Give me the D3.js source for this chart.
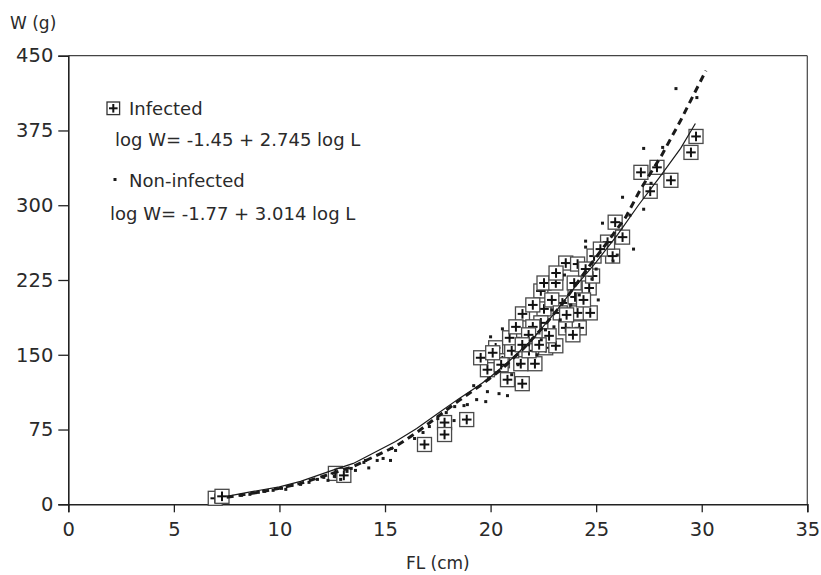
<!DOCTYPE html>
<html><head><meta charset="utf-8">
<script src="https://cdn.jsdelivr.net/npm/d3@7"></script>
<style>
html,body{margin:0;padding:0;background:#fff;}
svg text{font-family:"DejaVu Sans",sans-serif;fill:#2a2a2a;}
</style></head>
<body>
<svg id="chart" width="821" height="575"></svg>
<script>
// ---- data ----
const xTicks = [0,5,10,15,20,25,30,35];
const yTicks = [0,75,150,225,300,375,450];
// Infected fish: [FL cm, W g]
const infectedL = [6.96,7.28,12.65,13.05,16.87,17.82,17.82,18.87,21.5,20.8,22.1,19.85,19.53,20.24,21.19,21.43,21.82,22.61,23.09,23.56,24.2,21.51,22.53,23.4,24.12,24.72,22.38,22.53,23.09,23.96,24.67,24.83,23.56,24.12,24.9,25.78,25.54,26.25,25.9,29.73,29.49,27.12,27.88,28.54,27.56,20.56,22.38,22.77,21.0,20.9,22.0,22.9,23.3,24.0,24.5,25.2,20.5,21.2,21.8,22.3,23.6,23.9,24.4,22.0,23.1,20.1,21.5];
const infectedW = [6,8,31,29,60,82,70,85,121,125,141,135,147,157,167,141,154,157,159,177,177,191,196,202,192,192,214,222,222,222,217,229,242,241,249,249,263,268,283,369,353,333,338,325,314,144,182,169,154,167,178,205,192,208,236,256,140,178,170,160,190,170,205,200,232,152,160];
// Non-infected fish: [FL cm, W g]
const nonL = [8.2,8.6,9.0,9.3,9.7,10.1,10.3,10.6,11.0,11.4,11.8,12.1,12.3,12.6,12.9,13.2,13.4,13.6,14.0,14.07,14.23,14.63,14.91,15.26,15.5,15.3,16.4,16.8,17.1,17.5,17.9,18.27,18.3,18.74,18.9,19.2,19.34,19.77,19.85,20.4,20.8,19.9,20.0,20.56,21.0,22.2,22.6,23.0,23.8,24.2,25.1,24.5,24.5,25.3,26.77,25.8,26.25,27.25,27.25,28.15,28.78,29.77,26.0,25.0,23.5,21.8,22.9,24.8,26.6,27.6,21.3,22.4,23.3];
const nonW = [9,10,12,13,14,16,15,19,20,22,25,27,24,28,25,33,36,34,42,44,36.5,44,46,44,54,56,66,72,78,86,92,84,98,99,100,119,105,103,113,111,109,126,168,176,130,150,175,178,200,210,205,264,258,282,256,244,308,296,357,358,417,408,250,236,230,160,195,226,290,322,140,165,185];
// fitted curves
const fitInfL = [7.5,8.5,10,11,12.5,13.5,14.5,15.5,16.5,17.5,18.5,19.5,20,21,22,23,24,25,26,27,28,29,29.7];
const fitInfW = [8,12,17.5,23,34,41,52,63,76,91,106,120,128,146,166,191,218,243,270,300,328,357,382];
const fitNonL = [7.5,9,10,11,12.5,13.5,14.5,15.5,16.5,17.5,18.5,19.5,20.5,21.5,22.5,23.5,24.5,25.5,26.4,27.1,28.1,29,29.5,30.2];
const fitNonW = [7,12,16,21,31,38,48,58,72,88,104,119,135,155,178,204,234,262,288,316,350,385,406,435];

// ---- chart ----
const svg = d3.select("#chart");
const x = d3.scaleLinear().domain([0,35]).range([68.3,807.3]);
const y = d3.scaleLinear().domain([0,450]).range([504.3,55.7]);

// frame (top and right)
svg.append("line").attr("x1",x(0)).attr("x2",x(35)).attr("y1",y(450)).attr("y2",y(450))
  .attr("stroke","#444").attr("stroke-width",1.2);
svg.append("line").attr("x1",x(35)).attr("x2",x(35)).attr("y1",y(450)).attr("y2",y(0))
  .attr("stroke","#444").attr("stroke-width",1.2);

// axes
const xAxis = svg.append("g").attr("transform",`translate(0,${y(0)})`)
  .call(d3.axisBottom(x).tickValues(xTicks).tickSize(8).tickPadding(10).tickFormat(d3.format("d")));
const yAxis = svg.append("g").attr("transform",`translate(${x(0)},0)`)
  .call(d3.axisLeft(y).tickValues(yTicks).tickSize(10).tickPadding(5).tickFormat(d3.format("d")));
[xAxis,yAxis].forEach(g=>{
  g.select(".domain").attr("stroke","#222").attr("stroke-width",1.6);
  g.selectAll(".tick line").attr("stroke","#222").attr("stroke-width",1.3);
  g.selectAll(".tick text").style("font-size","19.5px").style("font-family","DejaVu Sans").attr("fill","#2a2a2a");
});

// axis titles
svg.append("text").attr("x",10).attr("y",29).style("font-size","17px").text("W (g)");
svg.append("text").attr("x",x(17.5)).attr("y",569).attr("text-anchor","middle").style("font-size","17px").text("FL (cm)");

// infected markers
const inf = infectedL.map((l,i)=>({l, w:infectedW[i]}));
const bs = 14, ph = 4.8;
const mk = svg.append("g");
inf.forEach(d=>{
  const cx = x(d.l), cy = y(d.w);
  mk.append("rect").attr("x",cx-bs/2).attr("y",cy-bs/2).attr("width",bs).attr("height",bs)
    .attr("fill","#fff").attr("stroke","#4a4a4a").attr("stroke-width",1.3);
  mk.append("line").attr("x1",cx-ph).attr("x2",cx+ph).attr("y1",cy).attr("y2",cy).attr("stroke","#111").attr("stroke-width",2);
  mk.append("line").attr("x1",cx).attr("x2",cx).attr("y1",cy-ph).attr("y2",cy+ph).attr("stroke","#111").attr("stroke-width",2);
});

// fitted lines
const line = d3.line().x(d=>x(d[0])).y(d=>y(d[1]));
svg.append("path").datum(fitInfL.map((l,i)=>[l,fitInfW[i]])).attr("d",line)
  .attr("fill","none").attr("stroke","#1a1a1a").attr("stroke-width",1.2);
svg.append("path").datum(fitNonL.map((l,i)=>[l,fitNonW[i]])).attr("d",line)
  .attr("fill","none").attr("stroke","#1a1a1a").attr("stroke-width",3).attr("stroke-dasharray","7,5");

// non-infected dots
svg.append("g").selectAll("rect").data(nonL.map((l,i)=>({l,w:nonW[i]}))).join("rect")
  .attr("x",d=>x(d.l)-1.5).attr("y",d=>y(d.w)-1.5).attr("width",3).attr("height",3).attr("fill","#1a1a1a");

// legend
const lg = svg.append("g");
lg.append("rect").attr("x",113.3-6.3).attr("y",108.3-6.3).attr("width",12.6).attr("height",12.6)
  .attr("fill","#fff").attr("stroke","#333").attr("stroke-width",1.3);
lg.append("line").attr("x1",109).attr("x2",117.6).attr("y1",108.3).attr("y2",108.3).attr("stroke","#111").attr("stroke-width",2);
lg.append("line").attr("x1",113.3).attr("x2",113.3).attr("y1",104).attr("y2",112.6).attr("stroke","#111").attr("stroke-width",2);
lg.append("text").attr("x",129).attr("y",115).style("font-size","18px").text("Infected");
lg.append("text").attr("x",115).attr("y",146).style("font-size","18px").text("log W= -1.45 + 2.745 log L");
lg.append("rect").attr("x",113.5).attr("y",178).attr("width",3).attr("height",3).attr("fill","#1a1a1a");
lg.append("text").attr("x",129).attr("y",187).style("font-size","18px").text("Non-infected");
lg.append("text").attr("x",110).attr("y",220).style("font-size","18px").text("log W= -1.77 + 3.014 log L");
</script>
</body></html>
